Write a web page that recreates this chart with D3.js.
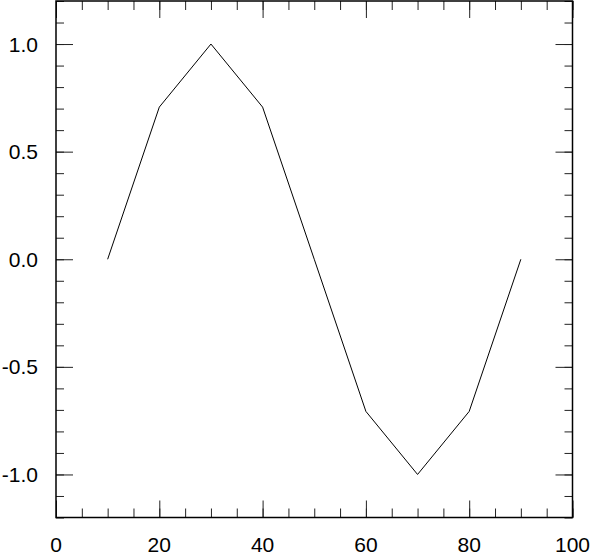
<!DOCTYPE html>
<html>
<head>
<meta charset="utf-8">
<script src="https://cdn.jsdelivr.net/npm/d3@7"></script>
<style>
  body { margin: 0; background: #fff; }
  svg text { font-family: "Liberation Sans", Arial, sans-serif; font-size: 21px; fill: #000; }
</style>
</head>
<body>
<svg id="chart" width="591" height="553"></svg>
<script>
// data
let xVals = [10, 20, 30, 40, 50, 60, 70, 80, 90];
let yVals = [0, 0.707, 1, 0.707, 0, -0.707, -1, -0.707, 0];
let xTicks = [0, 20, 40, 60, 80, 100];
let yTicks = [-1.0, -0.5, 0.0, 0.5, 1.0];

let plotL = 56, plotR = 572.5, plotT = 1, plotB = 517.5;

let svg = d3.select('#chart');

let x = d3.scaleLinear().domain([0, 100]).range([plotL, plotR]);
let y = d3.scaleLinear().domain([-1.2, 1.2]).range([plotB, plotT]);

let xMinor = d3.range(0, 100.01, 5);
let yMinor = d3.range(-12, 12.01, 1).map(d => d / 10);

// inward ticks on every side
function tickSide(axisFn, scale, vals, len, pos) {
  svg.append('g')
    .attr('transform', pos)
    .call(axisFn(scale).tickValues(vals).tickSize(len).tickFormat(''))
    .call(g => g.select('.domain').remove())
    .call(g => g.selectAll('line').attr('stroke', '#222').attr('stroke-width', 1));
}

tickSide(d3.axisTop, x, xMinor, 9, `translate(0,${plotB})`);
tickSide(d3.axisTop, x, xTicks, 17, `translate(0,${plotB})`);
tickSide(d3.axisBottom, x, xMinor, 9, `translate(0,${plotT})`);
tickSide(d3.axisBottom, x, xTicks, 17, `translate(0,${plotT})`);
tickSide(d3.axisRight, y, yMinor, 8, `translate(${plotL},0)`);
tickSide(d3.axisRight, y, yTicks, 17, `translate(${plotL},0)`);
tickSide(d3.axisLeft, y, yMinor, 8, `translate(${plotR},0)`);
tickSide(d3.axisLeft, y, yTicks, 17, `translate(${plotR},0)`);

// frame
svg.append('rect')
  .attr('x', plotL).attr('y', plotT)
  .attr('width', plotR - plotL).attr('height', plotB - plotT)
  .attr('fill', 'none').attr('stroke', '#000').attr('stroke-width', 1.5);

// labels
svg.append('g').selectAll('text')
  .data(xTicks).enter().append('text')
  .attr('x', d => x(d)).attr('y', 552)
  .attr('text-anchor', 'middle')
  .text(d => d);

svg.append('g').selectAll('text')
  .data(yTicks).enter().append('text')
  .attr('x', 38).attr('y', d => y(d) + 7.5)
  .attr('text-anchor', 'end')
  .text(d => d3.format('.1f')(d).replace('−', '-'));

// the curve
let line = d3.line()
  .x((d, i) => x(xVals[i]))
  .y(d => y(d));

svg.append('path')
  .datum(yVals)
  .attr('d', line)
  .attr('fill', 'none')
  .attr('stroke', '#000')
  .attr('stroke-width', 1);
</script>
</body>
</html>
